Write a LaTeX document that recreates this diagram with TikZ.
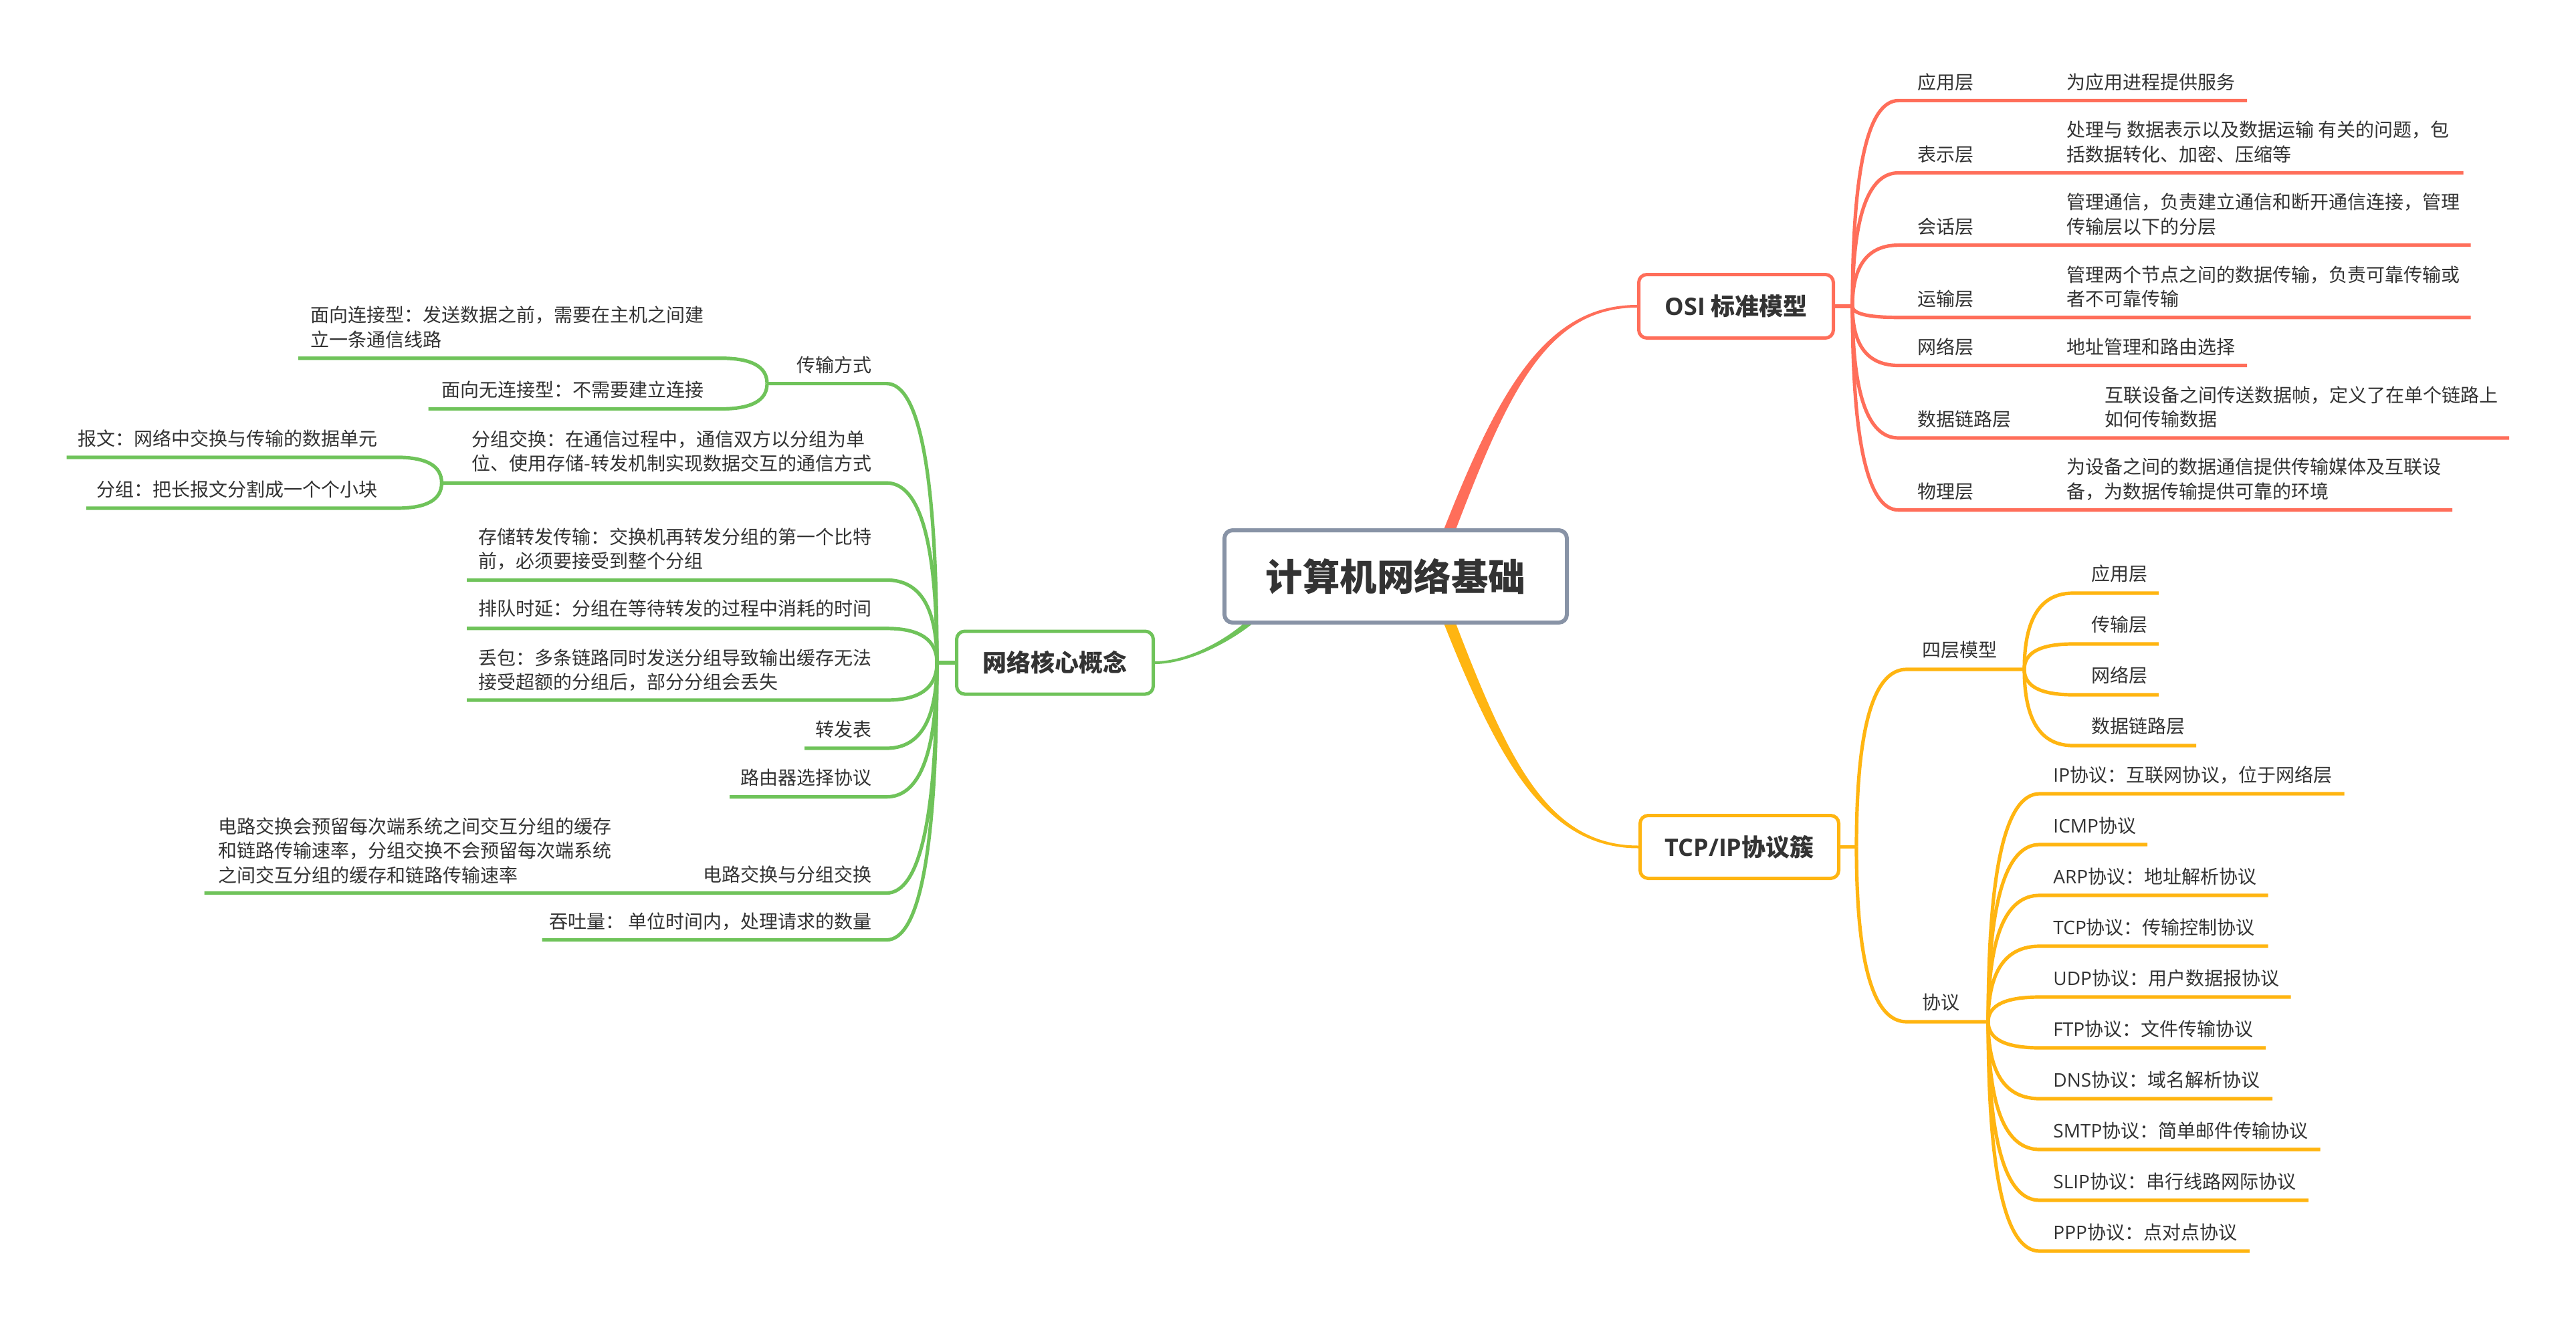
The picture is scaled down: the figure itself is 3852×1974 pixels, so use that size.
\documentclass[tikz,border=0pt]{standalone}
\usepackage{fontspec}
\setmainfont{Noto Sans CJK SC}
\newfontfamily\lat{Open Sans}
\usetikzlibrary{calc}
\definecolor{cR}{HTML}{FF6E5A}
\definecolor{cY}{HTML}{FFB511}
\definecolor{cG}{HTML}{6FC35A}
\definecolor{cB}{HTML}{8893A6}
\definecolor{txc}{HTML}{333333}
\pgfdeclarelayer{bg}
\pgfsetlayers{bg,main}
\newcommand\kid[4]{\draw[#1] (#2) .. controls ($(#2)!0.667!(#2|-#3)$) and ($(#3)!0.667!(#2|-#3)$) .. (#3) -- (#4);}
\begin{document}
\begin{tikzpicture}[x=0.5pt,y=-0.5pt,
  tx/.style={font=\fontsize{14pt}{18.2pt}\selectfont, text=txc, inner sep=0pt, align=left},
  topic/.style={draw=#1, fill=white, line width=2.5pt, rounded corners=6pt, text=txc, inner sep=0pt, font=\fontsize{18pt}{22pt}\selectfont\bfseries},
  lR/.style={draw=cR, line width=2.6pt},
  lY/.style={draw=cY, line width=2.6pt},
  lG/.style={draw=cG, line width=2.6pt}]
\useasboundingbox (0,0) rectangle (3852,1974);

% ---------- main topics ----------
\node[topic=cB, line width=3pt, minimum width=256pt, minimum height=69pt, font=\fontsize{27.75pt}{32pt}\selectfont\bfseries] (root) at (2087,862) {计算机网络基础};
\node[topic=cR, minimum width=145.5pt, minimum height=47.5pt] (osi) at (2596,458) {{\lat OSI} 标准模型};
\node[topic=cY, minimum width=148.5pt, minimum height=47pt] (tcp) at (2601,1266.5) {{\lat TCP/IP}协议簇};
\node[topic=cG, minimum width=147pt, minimum height=47pt] (net) at (1577.5,991) {网络核心概念};

% ---------- OSI ----------
\node[tx,anchor=west] (o1) at (2867,122.4) {应用层};
\node[tx,anchor=west] (o1d) at (3090,122.4) {为应用进程提供服务};
\node[tx,anchor=west] (o2) at (2867,230.5) {表示层};
\node[tx,anchor=west] (o2d) at (3090,212.3) {处理与 数据表示以及数据运输 有关的问题，包\\括数据转化、加密、压缩等};
\node[tx,anchor=west] (o3) at (2867,338.6) {会话层};
\node[tx,anchor=west] (o3d) at (3090,320.4) {管理通信，负责建立通信和断开通信连接，管理\\传输层以下的分层};
\node[tx,anchor=west] (o4) at (2867,446.7) {运输层};
\node[tx,anchor=west] (o4d) at (3090,428.5) {管理两个节点之间的数据传输，负责可靠传输或\\者不可靠传输};
\node[tx,anchor=west] (o5) at (2867,518.5) {网络层};
\node[tx,anchor=west] (o5d) at (3090,518.5) {地址管理和路由选择};
\node[tx,anchor=west] (o6) at (2867,627) {数据链路层};
\node[tx,anchor=west] (o6d) at (3147,608.8) {互联设备之间传送数据帧，定义了在单个链路上\\如何传输数据};
\node[tx,anchor=west] (o7) at (2867,734.7) {物理层};
\node[tx,anchor=west] (o7d) at (3090,716.5) {为设备之间的数据通信提供传输媒体及互联设\\备，为数据传输提供可靠的环境};

% ---------- TCP/IP ----------
\node[tx,anchor=west] (t4) at (2874,972) {四层模型};
\node[tx,anchor=west] (tp) at (2874,1499) {协议};
\node[tx,anchor=west] (a1) at (3127,858) {应用层};
\node[tx,anchor=west] (a2) at (3127,934) {传输层};
\node[tx,anchor=west] (a3) at (3127,1010) {网络层};
\node[tx,anchor=west] (a4) at (3127,1086) {数据链路层};
\node[tx,anchor=west] (p1) at (3070,1159) {{\lat IP}协议：互联网协议，位于网络层};
\node[tx,anchor=west] (p2) at (3070,1235) {{\lat ICMP}协议};
\node[tx,anchor=west] (p3) at (3070,1311) {{\lat ARP}协议：地址解析协议};
\node[tx,anchor=west] (p4) at (3070,1387) {{\lat TCP}协议：传输控制协议};
\node[tx,anchor=west] (p5) at (3070,1463) {{\lat UDP}协议：用户数据报协议};
\node[tx,anchor=west] (p6) at (3070,1539) {{\lat FTP}协议：文件传输协议};
\node[tx,anchor=west] (p7) at (3070,1615) {{\lat DNS}协议：域名解析协议};
\node[tx,anchor=west] (p8) at (3070,1691) {{\lat SMTP}协议：简单邮件传输协议};
\node[tx,anchor=west] (p9) at (3070,1767) {{\lat SLIP}协议：串行线路网际协议};
\node[tx,anchor=west] (p10) at (3070,1843) {{\lat PPP}协议：点对点协议};

% ---------- network core ----------
\node[tx,anchor=east] (g1) at (1304,545.4) {传输方式};
\node[tx,anchor=west] (g1a) at (464,489.2) {面向连接型：发送数据之前，需要在主机之间建\\立一条通信线路};
\node[tx,anchor=west] (g1b) at (660,583.3) {面向无连接型：不需要建立连接};
\node[tx,anchor=east] (g2) at (1304,675) {分组交换：在通信过程中，通信双方以分组为单\\位、使用存储-转发机制实现数据交互的通信方式};
\node[tx,anchor=east] (g2a) at (565,655.7) {报文：网络中交换与传输的数据单元};
\node[tx,anchor=east] (g2b) at (565,732.3) {分组：把长报文分割成一个个小块};
\node[tx,anchor=east] (g3) at (1304,821) {存储转发传输：交换机再转发分组的第一个比特\\前，必须要接受到整个分组};
\node[tx,anchor=east] (g4) at (1304,910.3) {排队时延：分组在等待转发的过程中消耗的时间};
\node[tx,anchor=east] (g5) at (1304,1002) {丢包：多条链路同时发送分组导致输出缓存无法\\接受超额的分组后，部分分组会丢失};
\node[tx,anchor=east] (g6) at (1304,1090.7) {转发表};
\node[tx,anchor=east] (g7) at (1304,1163) {路由器选择协议};
\node[tx,anchor=east] (g8) at (1304,1308) {电路交换与分组交换};
\node[tx,anchor=west] (g8a) at (326,1272) {电路交换会预留每次端系统之间交互分组的缓存\\和链路传输速率，分组交换不会预留每次端系统\\之间交互分组的缓存和链路传输速率};
\node[tx,anchor=east] (g9) at (1304,1378) {吞吐量： 单位时间内，处理请求的数量};

% ---------- coordinates ----------
\coordinate (of) at (2770,458);
\coordinate (o1s) at (2839,150.4); \coordinate (o1e) at (3360,150.4);
\coordinate (o2s) at (2839,258.5); \coordinate (o2e) at (3683.5,258.5);
\coordinate (o3s) at (2839,366.6); \coordinate (o3e) at (3694.6,366.6);
\coordinate (o4s) at (2839,474.7); \coordinate (o4e) at (3694.6,474.7);
\coordinate (o5s) at (2839,546.5); \coordinate (o5e) at (3360,546.5);
\coordinate (o6s) at (2839,655);   \coordinate (o6e) at (3752,655);
\coordinate (o7s) at (2839,762.7); \coordinate (o7e) at (3667,762.7);

\coordinate (tf) at (2776,1266.5);
\coordinate (t4s) at (2851,1001); \coordinate (t4f) at (3027,1001);
\coordinate (tps) at (2851,1528); \coordinate (tpf) at (2973,1528);
\coordinate (a1s) at (3100,887);  \coordinate (a1e) at (3228,887);
\coordinate (a2s) at (3100,963);  \coordinate (a2e) at (3228,963);
\coordinate (a3s) at (3100,1039); \coordinate (a3e) at (3228,1039);
\coordinate (a4s) at (3100,1115); \coordinate (a4e) at (3284,1115);
\coordinate (p1s) at (3050,1187); \coordinate (p1e) at (3505.6,1187);
\coordinate (p2s) at (3050,1263); \coordinate (p2e) at (3211,1263);
\coordinate (p3s) at (3050,1339); \coordinate (p3e) at (3391.5,1339);
\coordinate (p4s) at (3050,1415); \coordinate (p4e) at (3391.5,1415);
\coordinate (p5s) at (3050,1491); \coordinate (p5e) at (3425.5,1491);
\coordinate (p6s) at (3050,1567); \coordinate (p6e) at (3388,1567);
\coordinate (p7s) at (3050,1643); \coordinate (p7e) at (3398,1643);
\coordinate (p8s) at (3050,1719); \coordinate (p8e) at (3469.5,1719);
\coordinate (p9s) at (3050,1795); \coordinate (p9e) at (3451.7,1795);
\coordinate (p10s) at (3050,1871); \coordinate (p10e) at (3363.8,1871);

\coordinate (nf) at (1401,991);
\coordinate (g1e) at (1325.5,573.6); \coordinate (nf1) at (1147,573.6);
\coordinate (g1ae) at (1078,535.7); \coordinate (g1as) at (446,535.7);
\coordinate (g1be) at (1078,611.5); \coordinate (g1bs) at (640.7,611.5);
\coordinate (g2e) at (1325.5,722.2); \coordinate (nf2) at (660.4,722.2);
\coordinate (g2ae) at (593,683.9); \coordinate (g2as) at (99.6,683.9);
\coordinate (g2be) at (593,760); \coordinate (g2bs) at (129,760);
\coordinate (g3e) at (1325.5,867.4); \coordinate (g3s) at (698,867.4);
\coordinate (g4e) at (1325.5,939.8); \coordinate (g4s) at (698,939.8);
\coordinate (g5e) at (1325.5,1047); \coordinate (g5s) at (698,1047);
\coordinate (g6e) at (1325.5,1119); \coordinate (g6s) at (1203,1119);
\coordinate (g7e) at (1325.5,1191.7); \coordinate (g7s) at (1091,1191.7);
\coordinate (g8e) at (1325.5,1335.5); \coordinate (g8s) at (305.5,1335.5);
\coordinate (g9e) at (1325.5,1405.6); \coordinate (g9s) at (810.6,1405.6);

\begin{pgfonlayer}{bg}
\fill[white] (0,0) rectangle (3852,1974);
% tapered main branches
\fill[cR] ($(root.center)+(62,3)$) .. controls ($(root.center)+(157,-247)$) and ($(osi.west)+(-150,2)$) .. ($(osi.west)+(0,2)$)
  -- ($(osi.west)+(0,-2)$) .. controls ($(osi.west)+(-150,-2)$) and ($(root.center)+(141,-253)$) .. ($(root.center)+(46,-3)$) -- cycle;
\fill[cY] ($(root.center)+(62,-3)$) .. controls ($(root.center)+(157,247)$) and ($(tcp.west)+(-150,-2)$) .. ($(tcp.west)+(0,-2)$)
  -- ($(tcp.west)+(0,2)$) .. controls ($(tcp.west)+(-150,2)$) and ($(root.center)+(141,253)$) .. ($(root.center)+(46,3)$) -- cycle;
\fill[cG] ($(root.center)+(-160.2,1.75)$) .. controls ($(root.center)+(-175.2,59.75)$) and ($(net.east)+(72.5,2)$) .. ($(net.east)+(0,2)$)
  -- ($(net.east)+(0,-2)$) .. controls ($(net.east)+(72.5,-2)$) and ($(root.center)+(-188.8,56.25)$) .. ($(root.center)+(-173.8,-1.75)$) -- cycle;

% OSI
\draw[lR] (osi.east) -- (of);
\kid{lR}{of}{o1s}{o1e}
\kid{lR}{of}{o2s}{o2e}
\kid{lR}{of}{o3s}{o3e}
\kid{lR}{of}{o4s}{o4e}
\kid{lR}{of}{o5s}{o5e}
\kid{lR}{of}{o6s}{o6e}
\kid{lR}{of}{o7s}{o7e}

% TCP/IP
\draw[lY] (tcp.east) -- (tf);
\kid{lY}{tf}{t4s}{t4f}
\kid{lY}{tf}{tps}{tpf}
\kid{lY}{t4f}{a1s}{a1e}
\kid{lY}{t4f}{a2s}{a2e}
\kid{lY}{t4f}{a3s}{a3e}
\kid{lY}{t4f}{a4s}{a4e}
\kid{lY}{tpf}{p1s}{p1e}
\kid{lY}{tpf}{p2s}{p2e}
\kid{lY}{tpf}{p3s}{p3e}
\kid{lY}{tpf}{p4s}{p4e}
\kid{lY}{tpf}{p5s}{p5e}
\kid{lY}{tpf}{p6s}{p6e}
\kid{lY}{tpf}{p7s}{p7e}
\kid{lY}{tpf}{p8s}{p8e}
\kid{lY}{tpf}{p9s}{p9e}
\kid{lY}{tpf}{p10s}{p10e}

% network core
\draw[lG] (net.west) -- (nf);
\kid{lG}{nf}{g1e}{nf1}
\kid{lG}{nf1}{g1ae}{g1as}
\kid{lG}{nf1}{g1be}{g1bs}
\kid{lG}{nf}{g2e}{nf2}
\kid{lG}{nf2}{g2ae}{g2as}
\kid{lG}{nf2}{g2be}{g2bs}
\kid{lG}{nf}{g3e}{g3s}
\kid{lG}{nf}{g4e}{g4s}
\kid{lG}{nf}{g5e}{g5s}
\kid{lG}{nf}{g6e}{g6s}
\kid{lG}{nf}{g7e}{g7s}
\kid{lG}{nf}{g8e}{g8s}
\kid{lG}{nf}{g9e}{g9s}
\end{pgfonlayer}
\end{tikzpicture}
\end{document}
